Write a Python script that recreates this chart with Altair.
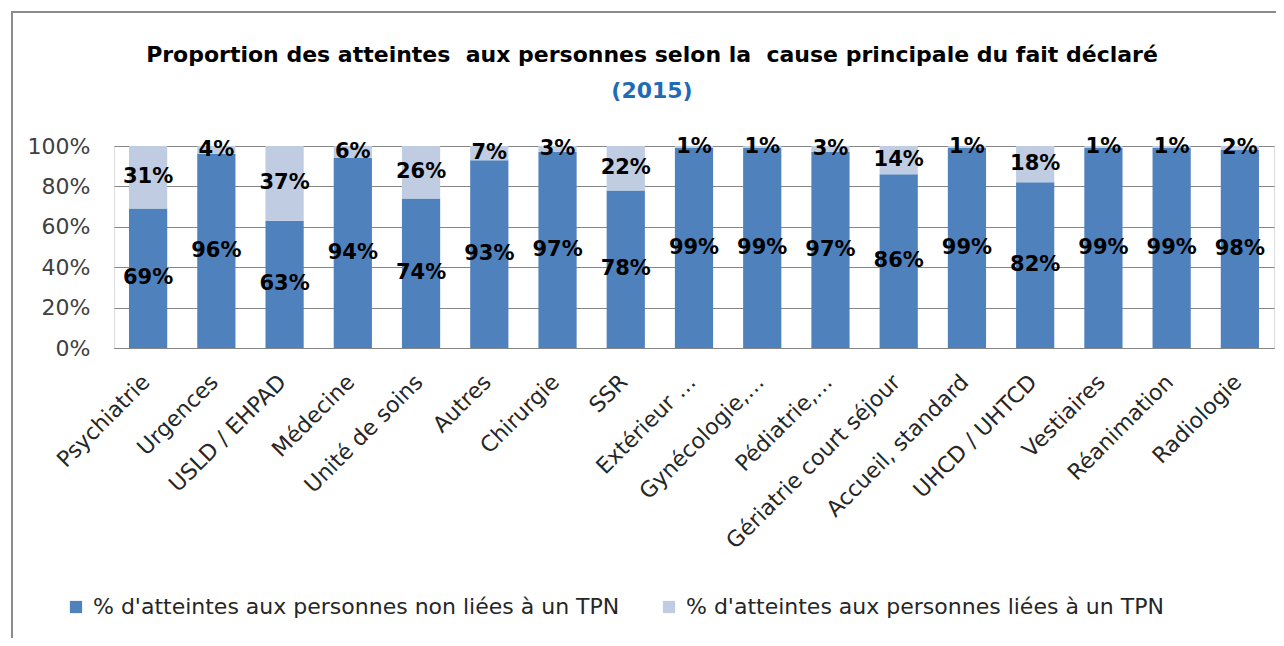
import altair as alt
import pandas as pd

categories = ["Psychiatrie", "Urgences", "USLD / EHPAD", "Médecine", "Unité de soins",
              "Autres", "Chirurgie", "SSR", "Extérieur …", "Gynécologie,…", "Pédiatrie,…",
              "Gériatrie court séjour", "Accueil, standard", "UHCD / UHTCD", "Vestiaires",
              "Réanimation", "Radiologie"]
non_tpn = [69, 96, 63, 94, 74, 93, 97, 78, 99, 99, 97, 86, 99, 82, 99, 99, 98]
tpn = [31, 4, 37, 6, 26, 7, 3, 22, 1, 1, 3, 14, 1, 18, 1, 1, 2]
series = ["% d'atteintes aux personnes non liées à un TPN",
          "% d'atteintes aux personnes liées à un TPN"]
colors = ["#4F81BD", "#C0CCE2"]
title_text = "Proportion des atteintes\u00a0 aux personnes selon la\u00a0 cause principale du fait déclaré"
subtitle_text = "(2015)"

rows = []
for c, a, b in zip(categories, non_tpn, tpn):
    rows.append(dict(cat=c, serie=series[0], start=0, end=a / 100, label=f"{a}%"))
    rows.append(dict(cat=c, serie=series[1], start=a / 100, end=(a + b) / 100, label=f"{b}%"))
df = pd.DataFrame(rows)
df["mid"] = (df["start"] + df["end"]) / 2

FONT = "DejaVu Sans"

xenc = alt.X("cat:N", sort=categories, title=None,
             scale=alt.Scale(paddingInner=0.44, paddingOuter=0.22),
             axis=alt.Axis(labelAngle=-45, labelFontSize=22, labelFont=FONT,
                           labelColor="#262626", ticks=False, domain=True,
                           domainColor="#868686", labelPadding=23, labelOffset=-9,
                           labelLimit=400))

bars = alt.Chart(df).mark_bar().encode(
    x=xenc,
    y=alt.Y("start:Q", title=None,
            scale=alt.Scale(domain=[0, 1]),
            axis=alt.Axis(format=".0%", values=[0, 0.2, 0.4, 0.6, 0.8, 1.0],
                          labelFontSize=22, labelFont=FONT, labelColor="#404040",
                          ticks=False, domain=False, gridColor="#868686",
                          gridWidth=1, labelPadding=24)),
    y2="end:Q",
    color=alt.Color("serie:N", scale=alt.Scale(domain=series, range=colors),
                    legend=alt.Legend(title=None, orient="none", direction="horizontal",
                                      legendX=-49, legendY=450,
                                      symbolType="square", symbolSize=150,
                                      symbolStrokeWidth=0, labelFontSize=22,
                                      labelFont=FONT, labelColor="#262626",
                                      columnPadding=38, labelOffset=6,
                                      labelLimit=700)),
)

texts = alt.Chart(df).mark_text(font=FONT, fontSize=21, fontWeight="bold",
                                color="black", baseline="middle").encode(
    x=alt.X("cat:N", sort=categories),
    y=alt.Y("mid:Q"),
    text="label:N",
)

frame = alt.Chart(pd.DataFrame({"a": [0]})).mark_rect(
    fill=None, stroke="#8c8c8c", strokeWidth=2, clip=False
).encode(x=alt.value(-102), x2=alt.value(1300), y=alt.value(-134), y2=alt.value(700))

title_df = pd.DataFrame({"t": [title_text]})
title = alt.Chart(title_df).mark_text(
    font=FONT, fontSize=22, fontWeight="bold", color="black",
    align="center", baseline="middle", clip=False
).encode(text="t:N", x=alt.value(538), y=alt.value(-91))

sub_df = pd.DataFrame({"t": [subtitle_text]})
subtitle = alt.Chart(sub_df).mark_text(
    font=FONT, fontSize=22, fontWeight="bold", color="#1F6BB5",
    align="center", baseline="middle", clip=False
).encode(text="t:N", x=alt.value(538), y=alt.value(-55))

chart = alt.layer(frame, bars, texts, title, subtitle).properties(
    width=1160, height=202,
    autosize=alt.AutoSizeParams(type="none"),
    padding={"left": 106, "top": 138, "right": 2, "bottom": 290},
).configure_view(stroke=None).configure(background="white")

chart.save("out.html", embed_options={"renderer": "svg", "actions": False})
